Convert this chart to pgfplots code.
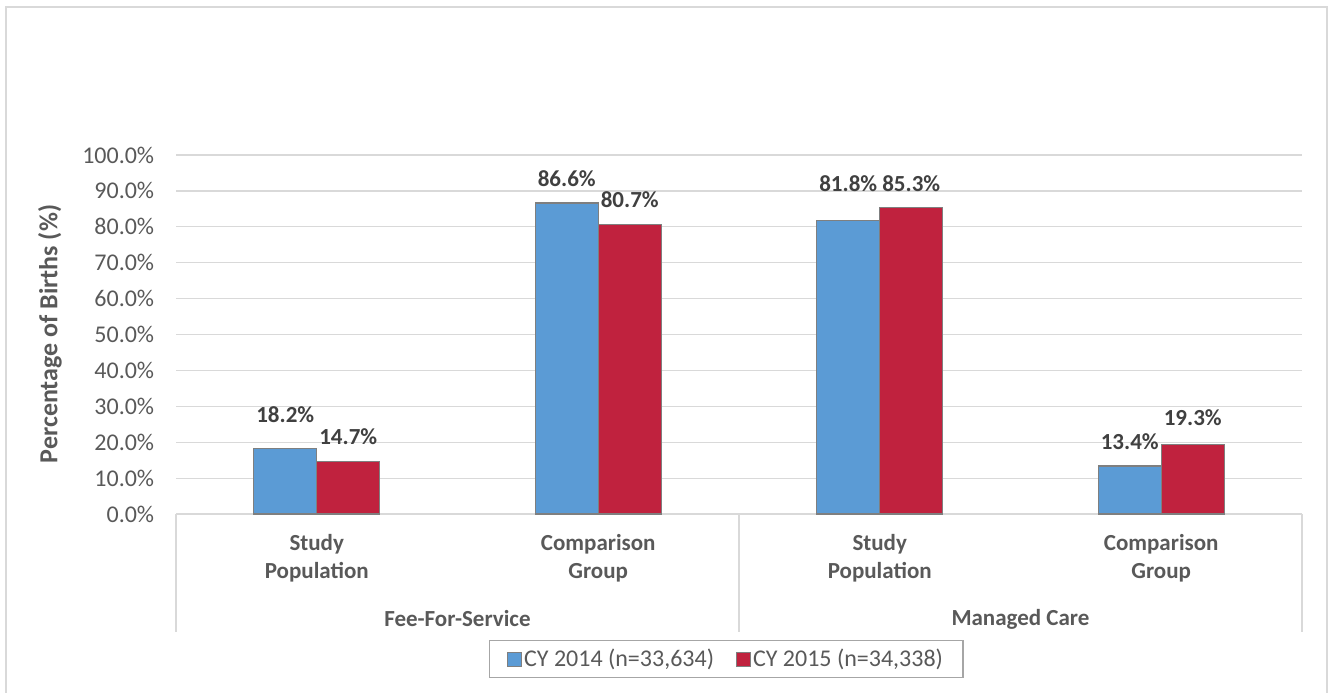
\documentclass[border=0pt]{standalone}
\usepackage{fontspec}
\setmainfont{Carlito}
\usepackage{pgfplots}
\usepackage{pgfplotstable}
\pgfplotsset{compat=1.18}
\definecolor{blueB}{HTML}{5B9BD5}
\definecolor{redB}{HTML}{C0223E}
\definecolor{barline}{HTML}{7F7F7F}
\definecolor{gridc}{HTML}{D9D9D9}
\definecolor{txt}{HTML}{595959}
\definecolor{lbl}{HTML}{404040}
\definecolor{legc}{HTML}{A6A6A6}

\pgfplotsset{
  sqlegend/.style={legend image code/.code={\draw[##1,line width=1bp] (0bp,-7bp) rectangle (14bp,7bp);}},
  liftlabels/.style={
    visualization depends on={\thisrow{dy}\as\dy},
    every node near coord/.append style={font=\bfseries,text=lbl,yshift=\dy pt}},
}

% value, extra lift of the data label (pt)
\pgfplotstableread{
x y dy
0 18.2 18
1 86.6 8
2 81.8 20
3 13.4 8
}\cyfourteen
\pgfplotstableread{
x y dy
0 14.7 8
1 80.7 8
2 85.3 8
3 19.3 11
}\cyfifteen

\begin{document}
\fontsize{23bp}{28bp}\selectfont
\begin{tikzpicture}
\useasboundingbox (0,0) rectangle (1328bp,-693bp);
\draw[gridc,line width=1.5bp] (6bp,-693bp) -- (6bp,-7bp) -- (1327bp,-7bp) -- (1327bp,-693bp);
\begin{axis}[
  at={(176bp,-514bp)},anchor=south west,
  scale only axis,width=1126bp,height=359bp,
  ybar=0pt,bar width=63bp,
  xmin=-0.5,xmax=3.5,ymin=0,ymax=100,
  xtick={0,1,2,3},
  xticklabels={{Study\\Population},{Comparison\\Group},{Study\\Population},{Comparison\\Group}},
  ytick={0,10,...,100},
  yticklabel={\pgfmathprintnumber[fixed,fixed zerofill,precision=1]{\tick}\%},
  /pgf/number format/assume math mode=true,
  axis line style={draw=none},
  tick style={draw=none},
  ymajorgrids,grid style={gridc,line width=1.2bp},
  x tick label style={font=\bfseries,text=txt,align=center,yshift=-8bp},
  y tick label style={font=\fontsize{24bp}{28bp}\selectfont,text=txt,xshift=-14bp},
  clip=false,
  nodes near coords={\pgfmathprintnumber[fixed,fixed zerofill,precision=1]{\pgfplotspointmeta}\%},
  legend columns=2,
  legend style={at={(0.4885,-0.404)},anchor=center,draw=legc,line width=1.2bp,
    text=txt,font=\fontsize{24bp}{28bp}\selectfont,inner xsep=18bp,inner ysep=6bp,
    /tikz/every even column/.append style={column sep=20bp}},
]
\addplot[fill=blueB,draw=barline,line width=1.3bp,liftlabels,sqlegend]
  table[x=x,y=y] {\cyfourteen};
\addlegendentry{CY 2014 (n=33,634)}
\addplot[fill=redB,draw=barline,line width=1.3bp,liftlabels,sqlegend]
  table[x=x,y=y] {\cyfifteen};
\addlegendentry{CY 2015 (n=34,338)}
\draw[gridc,line width=1.2bp] (axis cs:-0.5,0) -- ++(0bp,-118bp);
\draw[gridc,line width=1.2bp] (axis cs:1.5,0) -- ++(0bp,-118bp);
\draw[gridc,line width=1.2bp] (axis cs:3.5,0) -- ++(0bp,-118bp);
\node[font=\bfseries,text=txt,yshift=-105bp] at (axis cs:0.5,0) {Fee-For-Service};
\node[font=\bfseries,text=txt,yshift=-105bp] at (axis cs:2.5,0) {Managed Care};
\end{axis}
\node[rotate=90,font=\bfseries\fontsize{26bp}{30bp}\selectfont,text=txt] at (50bp,-334bp) {Percentage of Births (\%)};
\end{tikzpicture}
\end{document}
